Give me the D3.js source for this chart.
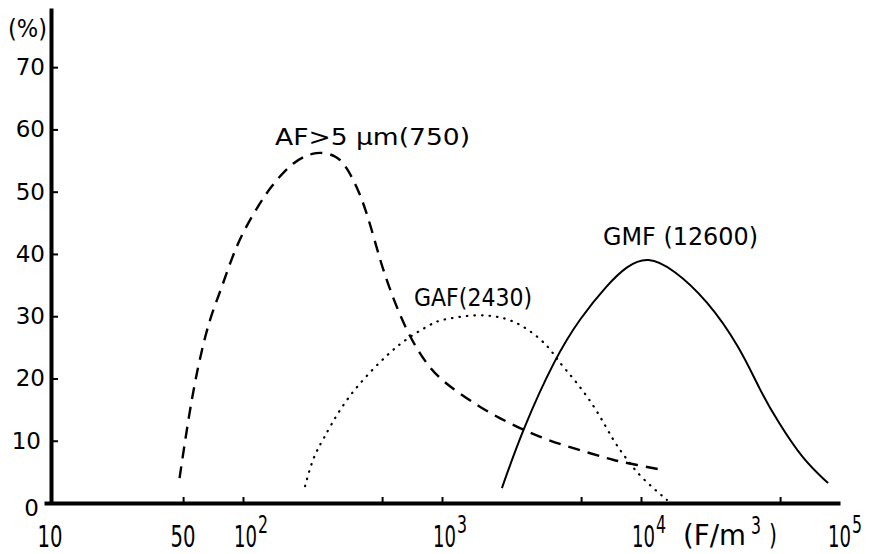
<!DOCTYPE html>
<html>
<head>
<meta charset="utf-8">
<script src="https://cdn.jsdelivr.net/npm/d3@7"></script>
<style>
  html, body { margin: 0; padding: 0; background: #fff; }
  svg { display: block; }
  text { font-family: "DejaVu Sans", sans-serif; fill: #000; }
</style>
</head>
<body>
<svg id="chart" width="869" height="554"></svg>
<script>
// ---- data ----
const afX  = [48, 53, 59, 68, 77, 93, 118, 137, 178, 235, 297, 333, 387, 435, 488, 548, 667, 871, 1135, 1550, 1950, 2470, 3100, 4050, 5550, 7200, 9550, 12900];
const afY  = [4.0, 13.3, 21.7, 29.7, 33.9, 41.8, 47.5, 50.7, 54.9, 56.6, 55.8, 53.9, 49.8, 44.9, 39.0, 34.2, 27.3, 21.3, 18.3, 15.4, 13.6, 12.0, 10.6, 9.3, 8.0, 6.9, 6.1, 5.3];
const gafX = [205, 225, 252, 307, 396, 529, 667, 901, 977, 1500, 2120, 2770, 3490, 3780, 4760, 6010, 7230, 8310, 9890, 13500];
const gafY = [2.7, 7.4, 10.1, 15.2, 19.7, 23.8, 26.5, 28.9, 29.4, 30.4, 29.8, 27.8, 24.9, 23.0, 19.4, 14.9, 10.1, 7.4, 4.2, 0.5];
const gmfX = [2000, 2550, 3700, 4940, 6750, 8500, 10800, 14500, 21500, 31400, 39600, 48200, 65200, 87100];
const gmfY = [2.4, 11.9, 23.3, 29.7, 35.0, 38.1, 39.6, 37.6, 32.6, 25.0, 18.1, 13.3, 6.9, 3.2];

const seriesNames = ["AF>5 µm(750)", "GAF(2430)", "GMF (12600)"];
const yTicks = [0, 10, 20, 30, 40, 50, 60, 70];
const xTicks = [50, 100, 500, 1000, 5000, 10000, 50000];
const xLabelVals = [10, 50, 100, 1000, 10000, 100000];
const xLabelBase = ["10", "50", "10", "10", "10", "10"];
const xLabelExp  = ["", "", "2", "3", "4", "5"];
const yUnit = "(%)";
const xUnitMain = "(F/m";
const xUnitExp = "3";
const xUnitClose = ")";

// ---- scales ----
const svg = d3.select("#chart");
svg.append("rect").attr("width", 869).attr("height", 554).attr("fill", "#fff");

const x = d3.scaleLog().domain([10, 100000]).range([44, 840]);
const y = d3.scaleLinear().domain([0, 79.5]).range([503, 8]);

// ---- axes ----
const yAxis = d3.axisLeft(y).tickValues(yTicks).tickSize(-7).tickSizeOuter(0).tickPadding(6).tickFormat(d3.format("d"));
const gy = svg.append("g").attr("transform", "translate(51,0)").call(yAxis);
gy.select(".domain").attr("stroke", "#000").attr("stroke-width", 4);
gy.selectAll(".tick line").attr("stroke", "#000").attr("stroke-width", 2)
  .filter(d => d === 0).remove();
gy.selectAll(".tick text").attr("font-size", 23).attr("font-family", "DejaVu Sans").attr("fill", "#000");
gy.selectAll(".tick text").filter(d => d === 0).attr("dx", -6).attr("dy", "0.55em");
gy.selectAll(".tick text").filter(d => d === 10).attr("dx", -4);
gy.attr("font-family", null).attr("font-size", null);

const xAxis = d3.axisBottom(x).tickValues(xTicks).tickSize(-6).tickSizeOuter(0).tickFormat("");
const gx = svg.append("g").attr("transform", "translate(0,503)").call(xAxis);
gx.select(".domain").attr("stroke", "#000").attr("stroke-width", 4);
gx.selectAll(".tick line").attr("stroke", "#000").attr("stroke-width", 2);

// x labels with superscripts
xLabelVals.forEach((v, i) => {
  const px = x(v);
  if (xLabelExp[i] === "") {
    svg.append("text").attr("x", px + (v === 10 ? 6 : 0)).attr("y", 547)
      .attr("text-anchor", "middle").attr("font-size", 30)
      .attr("textLength", 25).attr("lengthAdjust", "spacingAndGlyphs")
      .text(xLabelBase[i]);
  } else {
    const sx = px - (v === 100000 ? 12 : 9);
    svg.append("text").attr("x", sx).attr("y", 547)
      .attr("font-size", 30)
      .attr("textLength", 23).attr("lengthAdjust", "spacingAndGlyphs")
      .text(xLabelBase[i]);
    svg.append("text").attr("x", sx + 24).attr("y", 533)
      .attr("font-size", 25)
      .attr("textLength", 10).attr("lengthAdjust", "spacingAndGlyphs")
      .text(xLabelExp[i]);
  }
});
// x unit
svg.append("text").attr("x", 683).attr("y", 545).attr("font-size", 28)
  .attr("textLength", 63).attr("lengthAdjust", "spacingAndGlyphs").text(xUnitMain);
svg.append("text").attr("x", 751).attr("y", 534).attr("font-size", 24)
  .attr("textLength", 10).attr("lengthAdjust", "spacingAndGlyphs").text(xUnitExp);
svg.append("text").attr("x", 769).attr("y", 545).attr("font-size", 28)
  .attr("textLength", 8).attr("lengthAdjust", "spacingAndGlyphs").text(xUnitClose);

// y unit
svg.append("text").attr("x", 8).attr("y", 37).attr("font-size", 24)
  .attr("textLength", 39).attr("lengthAdjust", "spacingAndGlyphs").text(yUnit);

// ---- curves ----
const line = d3.line().x(d => x(d[0])).y(d => y(d[1])).curve(d3.curveBasis);
const toPts = (xs, ys) => xs.map((v, i) => [v, ys[i]]);

svg.append("path").attr("d", line(toPts(afX, afY)))
  .attr("fill", "none").attr("stroke", "#000").attr("stroke-width", 2.4)
  .attr("stroke-dasharray", "12,8");
svg.append("path").attr("d", line(toPts(gafX, gafY)))
  .attr("fill", "none").attr("stroke", "#000").attr("stroke-width", 2.2)
  .attr("stroke-linecap", "round").attr("stroke-dasharray", "0.5,7");
svg.append("path").attr("d", line(toPts(gmfX, gmfY)))
  .attr("fill", "none").attr("stroke", "#000").attr("stroke-width", 2);

// ---- series labels ----
svg.append("text").attr("x", 275).attr("y", 145).attr("font-size", 23)
  .attr("textLength", 195).attr("lengthAdjust", "spacingAndGlyphs").text(seriesNames[0]);
svg.append("text").attr("x", 414).attr("y", 306).attr("font-size", 24)
  .attr("textLength", 118).attr("lengthAdjust", "spacingAndGlyphs").text(seriesNames[1]);
svg.append("text").attr("x", 603).attr("y", 245).attr("font-size", 24)
  .attr("textLength", 155).attr("lengthAdjust", "spacingAndGlyphs").text(seriesNames[2]);
</script>
</body>
</html>
